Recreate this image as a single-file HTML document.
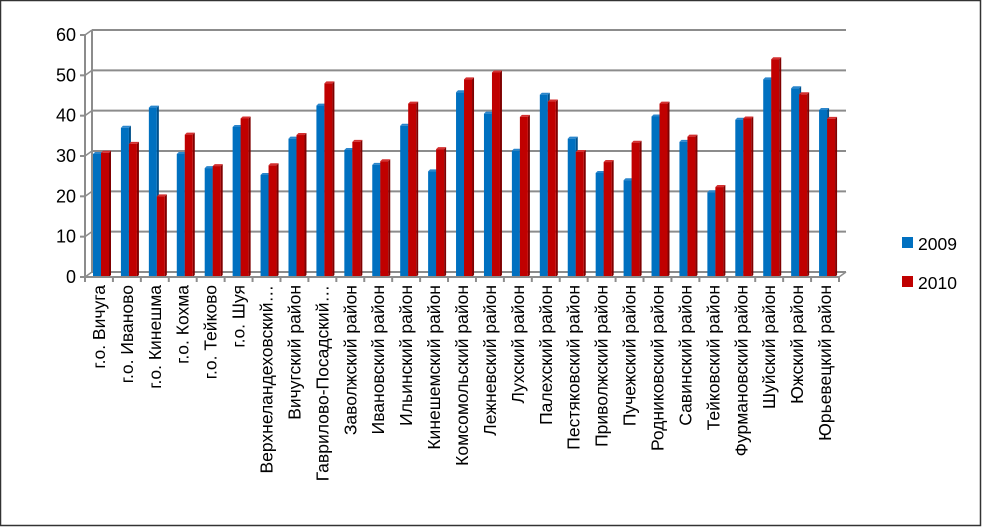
<!DOCTYPE html>
<html><head><meta charset="utf-8"><style>
body{margin:0;background:#fff;}
svg{display:block;font-family:"Liberation Sans","DejaVu Sans",sans-serif;}
</style></head><body>
<svg id="chart" width="982" height="527">
<rect x="0.5" y="0.5" width="980" height="525" fill="#fff" stroke="#333" stroke-width="1.5"/>
<g id="grid"></g>
<g id="bars"></g>
<g id="axes"></g>
<g>
<g><rect x="902" y="237" width="11" height="11" fill="#0070c0"/><text x="918" y="250" font-size="17.5" fill="#000">2009</text></g>
<g><rect x="902" y="276" width="11" height="11" fill="#c00000"/><text x="918" y="289" font-size="17.5" fill="#000">2010</text></g>
</g>
</svg>
<script>
const categories=["г.о. Вичуга","г.о. Иваново","г.о. Кинешма","г.о. Кохма","г.о. Тейково","г.о. Шуя","Верхнеландеховский…","Вичугский район","Гаврилово-Посадский…","Заволжский район","Ивановский район","Ильинский район","Кинешемский район","Комсомольский район","Лежневский район","Лухский район","Палехский район","Пестяковский район","Приволжский район","Пучежский район","Родниковский район","Савинский район","Тейковский район","Фурмановский район","Шуйский район","Южский район","Юрьевецкий район"];
const series2009=[30.5,37,42,30.5,27,37.2,25.3,34.3,42.5,31.5,27.8,37.5,26.2,45.8,40.5,31.3,45.2,34.3,25.8,24,39.8,33.5,21,39,49,46.8,41.4];
const series2010=[30.8,33,20,35.3,27.5,39.3,27.7,35.2,48,33.5,28.7,43,31.7,49,50.7,39.7,43.5,31,28.5,33.3,43,34.8,22.3,39.3,54,45.3,39.2];
const yTicks=[0,10,20,30,40,50,60];
const NS="http://www.w3.org/2000/svg";
const X0=85,X1=839,Y0=277,Y1=35,D=7;
const step=(X1-X0)/categories.length;
const y=v=>Y0-(v/60)*(Y0-Y1);
const xc=i=>X0+i*step;
function mk(tag,attrs,parent){const e=document.createElementNS(NS,tag);for(const k in attrs)e.setAttribute(k,attrs[k]);parent.appendChild(e);return e;}
const grid=document.getElementById('grid'),bars=document.getElementById('bars'),axes=document.getElementById('axes');
yTicks.forEach(t=>{
 const l=mk('line',{x1:X0+D,y1:y(t)-5,x2:X1+D,y2:y(t)-5,stroke:'#8c8c8c','stroke-width':2},grid);
 
 
 const d=mk('line',{x1:X0-5,y1:y(t),x2:X0,y2:y(t),stroke:'#8c8c8c','stroke-width':2},axes);
 
 
 mk('line',{x1:X0,y1:y(t),x2:X0+D,y2:y(t)-5,stroke:'#8c8c8c','stroke-width':1.5},axes);
 const tx=mk('text',{x:X0-9,y:y(t)+6,'text-anchor':'end','font-size':18,fill:'#000'},axes);
 tx.textContent=t;
 
 
});
mk('line',{x1:X0+D,y1:y(60)-5,x2:X0+D,y2:Y0-5,stroke:'#8c8c8c','stroke-width':2},axes);
mk('line',{x1:X0,y1:Y1,x2:X0,y2:Y0,stroke:'#8c8c8c','stroke-width':2},axes);
mk('line',{x1:X0,y1:Y0,x2:X1,y2:Y0,stroke:'#8c8c8c','stroke-width':2},axes);
mk('line',{x1:X1,y1:Y0,x2:X1+D,y2:Y0-5,stroke:'#8c8c8c','stroke-width':1.5},axes);
function bar(x,v,front,side,top,name){
 const g=mk('g',{},bars);
 
 
 const yt=y(v),w=8,dx=2,dy=2;
 mk('polygon',{points:`${x+w},${yt} ${x+w+dx},${yt-dy} ${x+w+dx},${Y0-dy} ${x+w},${Y0}`,fill:side},g);
 mk('polygon',{points:`${x},${yt} ${x+dx},${yt-dy} ${x+w+dx},${yt-dy} ${x+w},${yt}`,fill:top},g);
 mk('rect',{x:x,y:yt,width:w,height:Y0-yt,fill:front},g);
}
categories.forEach((c,i)=>{
 const x=xc(i);
 bar(x+8,series2009[i],'#0070c0','#004f8a','#2a86cc','bar-2009-'+i);
 bar(x+16,series2010[i],'#c00000','#800000','#d43030','bar-2010-'+i);
 const tk=mk('line',{x1:xc(i+1),y1:Y0,x2:xc(i+1),y2:Y0+5,stroke:'#8c8c8c','stroke-width':2},axes);
 
 
 const cx=x+step/2+6;
 const t=mk('text',{x:cx,y:285,transform:`rotate(-90 ${cx} 285)`,'text-anchor':'end','font-size':17.5,fill:'#000'},axes);
 t.textContent=c;
 
 
});
mk('line',{x1:X0,y1:Y0,x2:X0,y2:Y0+5,stroke:'#8c8c8c','stroke-width':2},axes);
</script>
</body></html>
